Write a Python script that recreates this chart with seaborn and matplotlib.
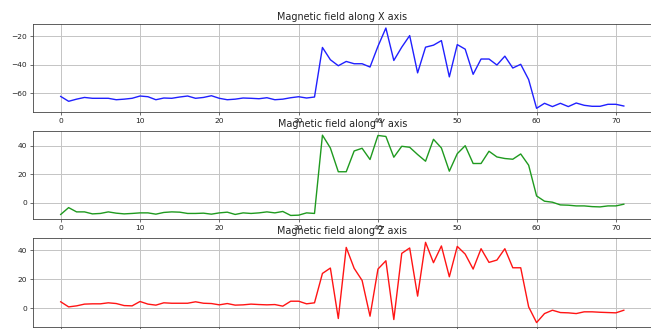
import numpy as np
import pandas as pd
import matplotlib
matplotlib.use('Agg')
import matplotlib.pyplot as plt
import seaborn as sns

# --- Data ---
mag_x = [-62.1, -65.5, -64.0, -62.8, -63.4, -63.4, -63.4, -64.4, -64.0, -63.4,
         -61.8, -62.3, -64.4, -63.2, -63.4, -62.5, -61.8, -63.4, -62.8, -61.6,
         -63.4, -64.4, -64.0, -63.2, -63.4, -63.7, -63.0, -64.4, -64.0, -63.0,
         -62.3, -63.2, -62.5, -27.8, -36.4, -40.6, -37.6, -39.2, -39.2, -41.5,
         -27.0, -14.2, -36.9, -27.6, -19.5, -45.6, -27.6, -26.2, -23.0, -48.4,
         -25.8, -29.0, -46.6, -35.9, -35.9, -40.1, -33.9, -42.2, -39.6, -50.3,
         -70.4, -66.9, -69.2, -66.9, -69.2, -66.7, -68.3, -69.0, -69.0, -67.6,
         -67.6, -68.8]

mag_y = [-8.1, -3.3, -6.3, -6.3, -7.7, -7.4, -6.3, -7.2, -7.7, -7.4,
         -7.0, -7.0, -7.9, -6.7, -6.3, -6.5, -7.4, -7.4, -7.2, -7.9,
         -7.0, -6.5, -8.1, -7.0, -7.4, -7.0, -6.3, -7.0, -6.0, -8.8,
         -8.6, -7.0, -7.4, 47.6, 38.6, 21.9, 21.9, 36.5, 38.4, 30.5,
         47.4, 46.7, 32.1, 39.8, 39.1, 34.0, 29.3, 44.7, 38.6, 22.3,
         34.6, 40.2, 27.7, 27.7, 36.3, 32.3, 31.2, 30.7, 34.4, 26.5,
         4.9, 1.2, 0.5, -1.4, -1.6, -2.1, -2.1, -2.6, -2.8, -2.1,
         -2.1, -0.9]

mag_z = [4.4, 0.9, 1.6, 2.8, 3.0, 3.0, 3.7, 3.2, 1.8, 1.6,
         4.6, 2.8, 2.1, 3.7, 3.4, 3.4, 3.4, 4.4, 3.4, 3.2,
         2.3, 3.2, 2.1, 2.3, 2.8, 2.5, 2.3, 2.5, 1.4, 4.8,
         4.8, 3.0, 3.7, 23.9, 27.6, -7.1, 41.8, 27.4, 19.1, -5.5,
         26.9, 32.6, -7.8, 37.7, 41.4, 8.3, 45.3, 31.3, 42.8, 21.6,
         42.5, 37.2, 26.9, 40.9, 31.5, 33.1, 40.9, 27.8, 27.8, 0.9,
         -9.9, -3.7, -1.4, -3.0, -3.2, -3.7, -2.5, -2.5, -2.8, -3.0,
         -3.2, -1.4]

axis_names = ['X', 'Y', 'Z']
line_colors = ['#2020ff', '#1f9a1f', '#ff1414']  # b / g / r, a bit softened like the reference
y_ticks = [[-60, -40, -20], [0, 20, 40], [0, 20, 40]]
x_ticks = [0, 10, 20, 30, 40, 50, 60, 70]

df = pd.DataFrame({'X': mag_x, 'Y': mag_y, 'Z': mag_z})
df['sample'] = np.arange(len(df))

fig, axes = plt.subplots(3, 1, figsize=(6.51, 3.29), dpi=100)
fig.subplots_adjust(left=0.050, right=1.0015, top=0.927, bottom=0.0073, hspace=0.2135)

for i, (ax, name, col, yt) in enumerate(zip(axes, axis_names, line_colors, y_ticks)):
    sns.lineplot(data=df, x='sample', y=name, ax=ax, color=col, linewidth=1.0)
    ax.set_title(f'Magnetic field along {name} axis', fontsize=6.9, pad=3, color='#222222')
    ax.set_xlabel('')
    ax.set_ylabel('')
    ax.set_xticks(x_ticks)
    ax.set_yticks(yt)
    ax.grid(True, color='#c4c4c4', linewidth=0.7)
    ax.tick_params(labelsize=5.4, length=2, width=0.5, pad=2,
                   colors='#333333', labelcolor='#222222')
    for s in ax.spines.values():
        s.set_linewidth(0.6)
        s.set_color('#444444')

# bottom panel's x labels fall outside the cropped picture in the reference
axes[2].tick_params(labelbottom=False)

plt.savefig('out.png', dpi=100)
